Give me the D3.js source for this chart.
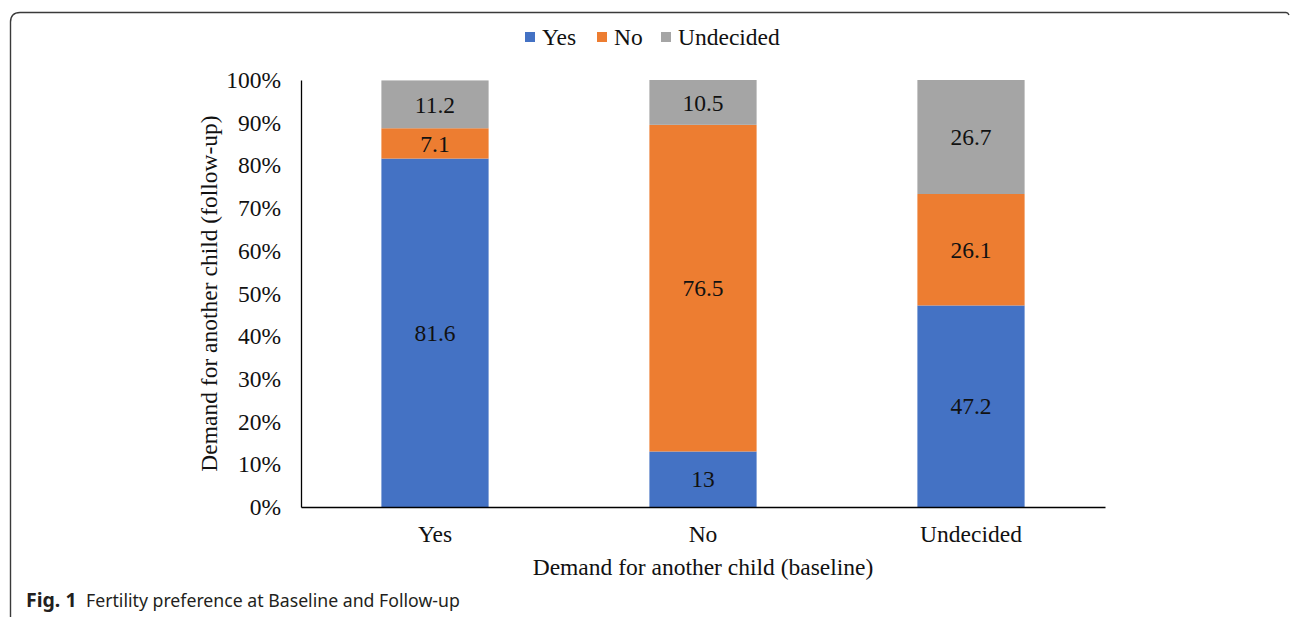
<!DOCTYPE html>
<html>
<head>
<meta charset="utf-8">
<script src="https://cdn.jsdelivr.net/npm/d3@7"></script>
<style>
  html, body { margin: 0; padding: 0; background: #fff; }
  svg { display: block; }
</style>
</head>
<body>
<svg id="chart" width="1290" height="617"></svg>
<script>
// Baseline demand (x categories) and follow-up answers (stacked series), in percent
const categories = ["Yes", "No", "Undecided"];
const seriesNames = ["Yes", "No", "Undecided"];
const yesValues = [81.6, 13, 47.2];
const noValues = [7.1, 76.5, 26.1];
const undecidedValues = [11.2, 10.5, 26.7];
const yTicks = [0, 10, 20, 30, 40, 50, 60, 70, 80, 90, 100];
const colors = ["#4472c4", "#ed7d31", "#a5a5a5"];

const rows = categories.map((c, i) => ({
  cat: c, Yes: yesValues[i], No: noValues[i], Undecided: undecidedValues[i]
}));

const svg = d3.select("#chart");
const serif = "'Liberation Serif', 'Times New Roman', serif";
const sans = "'Noto Sans', 'Open Sans', sans-serif";
const fs = 23.5;

// figure frame with rounded top-left corner
svg.append("path")
  .attr("d", "M10.5,617 L10.5,22 Q10.5,12.5 20,12.5 L1286,12.5 Q1288,12.5 1289,15")
  .attr("fill", "none").attr("stroke", "#3a3a3a").attr("stroke-width", 1.4);

const plot = { left: 301, right: 1105, top: 80, bottom: 507 };

const x = d3.scaleBand().domain(categories)
  .range([plot.left, plot.right]).paddingInner(0.6).paddingOuter(0.3);
const y = d3.scaleLinear().domain([0, 100]).range([plot.bottom, plot.top]);

const stack = d3.stack().keys(seriesNames);
const stacked = stack(rows);

const g = svg.append("g");
stacked.forEach((layer, si) => {
  g.selectAll(null).data(layer).enter().append("rect")
    .attr("x", d => x(d.data.cat))
    .attr("width", x.bandwidth())
    .attr("y", d => y(Math.min(d[1], 100)))
    .attr("height", d => y(d[0]) - y(Math.min(d[1], 100)))
    .attr("fill", colors[si]);
  g.selectAll(null).data(layer).enter().append("text")
    .attr("x", d => x(d.data.cat) + x.bandwidth() / 2)
    .attr("y", d => (y(d[0]) + y(Math.min(d[1], 100))) / 2)
    .attr("dy", "0.35em")
    .attr("text-anchor", "middle")
    .attr("font-family", serif).attr("font-size", fs).attr("fill", "#111")
    .text(d => d.data[seriesNames[si]]);
});

// y axis: line and percent labels, no tick marks
const yAxis = d3.axisLeft(y).tickValues(yTicks).tickFormat(d => d + "%").tickSize(0).tickPadding(20);
const ya = svg.append("g").attr("transform", `translate(${plot.left},0)`).call(yAxis);
ya.select(".domain").attr("stroke", "#000").attr("stroke-width", 1.3);
ya.selectAll("text").attr("font-family", serif).attr("font-size", fs).attr("fill", "#111");

// x axis
const xAxis = d3.axisBottom(x).tickSize(0).tickPadding(18);
const xa = svg.append("g").attr("transform", `translate(0,${plot.bottom})`).call(xAxis);
xa.select(".domain").attr("stroke", "#000").attr("stroke-width", 1.3);
xa.selectAll("text").attr("font-family", serif).attr("font-size", fs).attr("fill", "#111");

// axis titles
svg.append("text")
  .attr("x", (plot.left + plot.right) / 2).attr("y", 575)
  .attr("text-anchor", "middle")
  .attr("font-family", serif).attr("font-size", fs).attr("fill", "#111")
  .text("Demand for another child (baseline)");
svg.append("text")
  .attr("transform", `translate(217,${(plot.top + plot.bottom) / 2}) rotate(-90)`)
  .attr("text-anchor", "middle")
  .attr("font-family", serif).attr("font-size", fs).attr("fill", "#111")
  .text("Demand for another child (follow-up)");

// legend
const legendItems = [
  { name: seriesNames[0], sq: 525, tx: 542 },
  { name: seriesNames[1], sq: 597, tx: 614 },
  { name: seriesNames[2], sq: 661, tx: 678 }
];
const lg = svg.append("g");
legendItems.forEach((it, i) => {
  lg.append("rect").attr("x", it.sq).attr("y", 32).attr("width", 10).attr("height", 10).attr("fill", colors[i]);
  lg.append("text").attr("x", it.tx).attr("y", 45)
    .attr("font-family", serif).attr("font-size", fs).attr("fill", "#111").text(it.name);
});

// caption
const cap = svg.append("text").attr("x", 26).attr("y", 607)
  .attr("font-family", sans).attr("font-size", 17.7).attr("fill", "#231f20");
cap.append("tspan").attr("font-weight", "bold").attr("font-size", 19.5).text("Fig. 1");
cap.append("tspan").attr("x", 86).text("Fertility preference at Baseline and Follow-up");
</script>
</body>
</html>
